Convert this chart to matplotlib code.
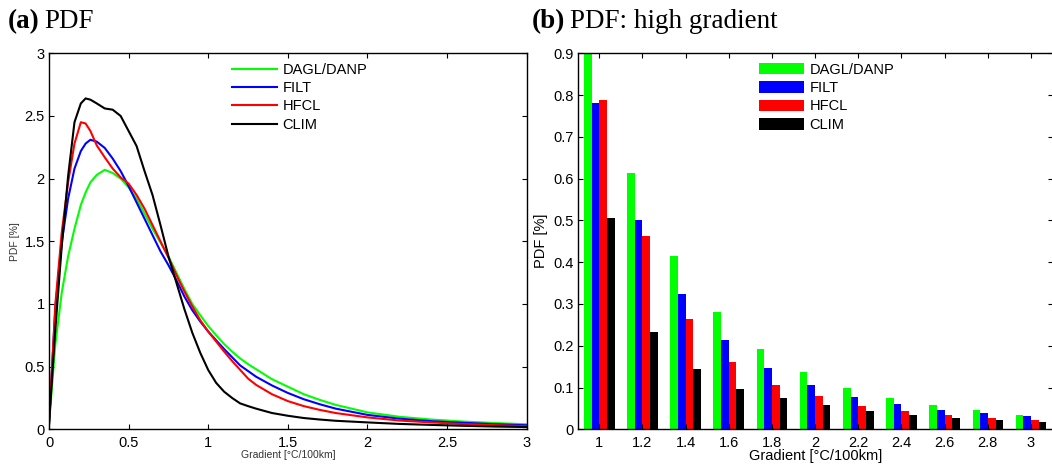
import numpy as np
import matplotlib
matplotlib.use("Agg")
import matplotlib.pyplot as plt
from matplotlib.ticker import FuncFormatter

plt.rcParams['font.family'] = ['Liberation Sans', 'DejaVu Sans']

# ---------------- data: panel (a) PDF curves ----------------
grad = [0, 0.04, 0.08, 0.12, 0.16, 0.2, 0.23, 0.26, 0.3, 0.35, 0.4, 0.45, 0.5, 0.55,
        0.6, 0.65, 0.7, 0.75, 0.8, 0.85, 0.9, 0.95, 1.0, 1.05, 1.1, 1.15, 1.2, 1.25, 1.3, 1.4,
        1.5, 1.6, 1.7, 1.8, 2.0, 2.2, 2.4, 2.6, 2.8, 3.0]
pdf_dagl = [0.04, 0.68, 1.09, 1.38, 1.60, 1.79, 1.89, 1.97, 2.03, 2.07, 2.045, 2.00, 1.93, 1.84,
            1.72, 1.60, 1.49, 1.38, 1.25, 1.12, 1.00, 0.91, 0.824, 0.75, 0.68, 0.62, 0.566, 0.52, 0.48, 0.40,
            0.34, 0.28, 0.235, 0.195, 0.135, 0.10, 0.078, 0.062, 0.05, 0.04]
pdf_filt = [0.04, 0.97, 1.49, 1.84, 2.08, 2.22, 2.28, 2.31, 2.295, 2.245, 2.16, 2.06, 1.94, 1.81,
            1.68, 1.55, 1.42, 1.31, 1.19, 1.06, 0.95, 0.86, 0.78, 0.71, 0.64, 0.575, 0.51, 0.465, 0.42, 0.35,
            0.29, 0.24, 0.20, 0.165, 0.115, 0.085, 0.065, 0.052, 0.041, 0.032]
pdf_hfcl = [0.04, 1.00, 1.57, 1.97, 2.28, 2.45, 2.44, 2.38, 2.265, 2.17, 2.08, 2.01, 1.96, 1.87,
            1.76, 1.63, 1.50, 1.37, 1.23, 1.10, 0.98, 0.87, 0.78, 0.70, 0.62, 0.545, 0.475, 0.405, 0.355, 0.28,
            0.225, 0.185, 0.155, 0.13, 0.095, 0.07, 0.055, 0.042, 0.033, 0.025]
pdf_clim = [0.04, 0.80, 1.46, 2.02, 2.45, 2.60, 2.64, 2.63, 2.60, 2.56, 2.55, 2.50, 2.38, 2.26,
            2.06, 1.87, 1.63, 1.38, 1.17, 0.96, 0.77, 0.61, 0.473, 0.37, 0.30, 0.25, 0.207, 0.185, 0.165, 0.13,
            0.108, 0.09, 0.078, 0.068, 0.055, 0.043, 0.035, 0.028, 0.022, 0.018]

# ---------------- data: panel (b) high-gradient bars ----------------
bins = [1.0, 1.2, 1.4, 1.6, 1.8, 2.0, 2.2, 2.4, 2.6, 2.8, 3.0]
bar_dagl = [0.93, 0.614, 0.416, 0.281, 0.193, 0.137, 0.100, 0.074, 0.058, 0.046, 0.034]
bar_filt = [0.782, 0.502, 0.324, 0.213, 0.146, 0.106, 0.078, 0.060, 0.047, 0.039, 0.031]
bar_hfcl = [0.789, 0.463, 0.264, 0.160, 0.106, 0.079, 0.055, 0.045, 0.035, 0.026, 0.022]
bar_clim = [0.505, 0.233, 0.144, 0.096, 0.074, 0.058, 0.043, 0.034, 0.026, 0.023, 0.017]

labels = ['DAGL/DANP', 'FILT', 'HFCL', 'CLIM']
colors = ['#00ff00', '#0000ff', '#ff0000', '#000000']

W, H = 1052, 467
fig = plt.figure(figsize=(W / 100, H / 100), dpi=100)

def fx(px):
    return px / W

def fy(py):
    return 1 - py / H

axa = fig.add_axes([fx(49), fy(429.3), fx(526.7 - 49), (429.3 - 53.3) / H])
axb = fig.add_axes([fx(577.7), fy(429.3), fx(1052.6 - 577.7), (429.3 - 53.3) / H])

for ax in (axa, axb):
    for s in ax.spines.values():
        s.set_linewidth(1.0)
    ax.tick_params(direction='in', top=True, right=True, length=3.5, width=0.8,
                   labelsize=10.5, colors='black')
    ax.tick_params(axis='x', pad=5)
    ax.tick_params(axis='y', pad=3)

fmt = FuncFormatter(lambda v, p: '%g' % round(v, 3))

# panel (a)
for y, c, lab in zip([pdf_dagl, pdf_filt, pdf_hfcl, pdf_clim], colors, labels):
    axa.plot(grad, y, color=c, lw=1.5, label=lab)
axa.set_xlim(0, 3)
axa.set_ylim(0, 3)
axa.set_xticks(np.arange(0, 3.01, 0.5))
axa.set_yticks(np.arange(0, 3.01, 0.5))
axa.xaxis.set_major_formatter(fmt)
axa.yaxis.set_major_formatter(fmt)
axa.set_xlabel('Gradient [°C/100km]', fontsize=7.5, color='#333333')
axa.set_ylabel('PDF [%]', fontsize=7.5, color='#333333')
axa.xaxis.set_label_coords(0.5, -0.055)
axa.yaxis.set_label_coords(-0.061, 0.5)
axa.legend(loc='upper left', bbox_to_anchor=(0.383, 0.975), frameon=False,
           fontsize=10.5, handlelength=3.1, handletextpad=0.35, labelspacing=0.3,
           borderpad=0, borderaxespad=0)

# panel (b)
bw = 0.0355
offs = [-1.5, -0.5, 0.5, 1.5]
xb = np.array(bins)
for y, c, lab, o in zip([bar_dagl, bar_filt, bar_hfcl, bar_clim], colors, labels, offs):
    axb.bar(xb + o * bw, y, width=bw, color=c, edgecolor='none', label=lab)
axb.set_xlim(0.9, 3.1)
axb.set_ylim(0, 0.9)
axb.set_xticks(bins)
axb.set_yticks(np.arange(0, 0.91, 0.1))
axb.xaxis.set_major_formatter(fmt)
axb.yaxis.set_major_formatter(fmt)
axb.set_xlabel('Gradient [°C/100km]', fontsize=10.5)
axb.set_ylabel('PDF [%]', fontsize=10.5)
axb.xaxis.set_label_coords(0.5, -0.052)
axb.yaxis.set_label_coords(-0.0625, 0.5)
axb.legend(loc='upper left', bbox_to_anchor=(0.382, 0.975), frameon=False,
           fontsize=10.5, handlelength=3.1, handleheight=0.85, handletextpad=0.35,
           labelspacing=0.3, borderpad=0, borderaxespad=0)

# titles
serif = ['Liberation Serif', 'DejaVu Serif']
fig.text(fx(8), fy(28), '(a)', fontsize=19.5, fontweight='bold', family=serif, va='baseline')
fig.text(fx(44), fy(28), 'PDF', fontsize=19.5, family=serif, va='baseline')
fig.text(fx(532), fy(28), '(b)', fontsize=19.5, fontweight='bold', family=serif, va='baseline')
fig.text(fx(570), fy(28), 'PDF: high gradient', fontsize=19.5, family=serif, va='baseline')

fig.savefig('out.png', dpi=100)
